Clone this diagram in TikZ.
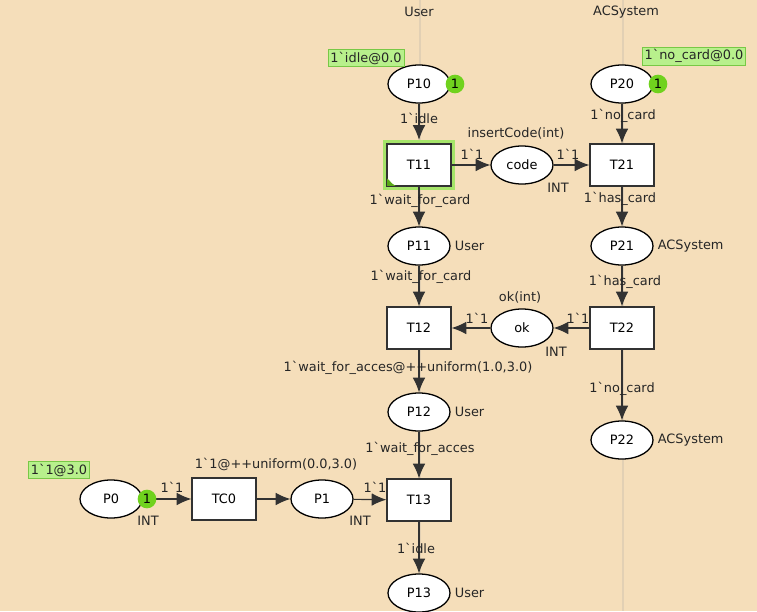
\documentclass[tikz,border=0pt]{standalone}
\usepackage{fontspec}
\newfontfamily\cpnfont{DejaVu Sans}
\usetikzlibrary{arrows.meta,shapes.geometric,positioning}
\definecolor{cpnbg}{RGB}{245,222,186}
\definecolor{laneline}{RGB}{226,208,180}
\definecolor{tokengreen}{RGB}{112,210,30}
\definecolor{markfill}{RGB}{184,240,140}
\definecolor{markdraw}{RGB}{120,200,70}
\definecolor{glowgreen}{RGB}{165,228,105}
\definecolor{arcgray}{RGB}{50,50,50}
\tikzset{
  place/.style={ellipse, draw=black, line width=1.1pt, fill=white, minimum width=1.86cm, minimum height=1.14cm, inner sep=0pt},
  trans/.style={rectangle, draw=arcgray, line width=1.1pt, fill=white, minimum width=1.92cm, minimum height=1.26cm, inner sep=0pt},
  arc/.style={-{Latex[length=4.4mm,width=3.8mm]}, arcgray, line width=1pt},
  token/.style={circle, fill=tokengreen, inner sep=0pt, minimum size=0.56cm, font=\cpnfont\fontsize{11}{12}\selectfont},
  marking/.style={rectangle, fill=markfill, draw=markdraw, inner sep=2pt, minimum height=0.52cm},
  lbl/.style={font=\cpnfont\fontsize{11}{12}\selectfont, text=black!85, inner sep=0pt},
  cset/.style={lbl, anchor=west, xshift=0.12cm},
  lane/.style={laneline, line width=1.2pt}
}
\newcommand{\gr}{\symbol{96}}
\begin{document}
\begin{tikzpicture}[x=0.03cm,y=-0.03cm,font=\cpnfont\fontsize{11}{12}\selectfont]
  \fill[cpnbg] (0,0) rectangle (757,611);
  \useasboundingbox (0,0) rectangle (757,611);
  % lanes
  \draw[lane] (420,0) -- (420,611);
  \draw[lane] (623,0) -- (623,611);
  \node[lbl] (userlane) at (419,12) {User};
  \node[lbl] (aclane) at (626,12) {ACSystem};

  % places
  \node[place] (P10) at (419,84) {P10};
  \node[place] (P11) at (419,246) {P11};
  \node[place] (P12) at (419,412) {P12};
  \node[place] (P13) at (419,593) {P13};
  \node[place] (P20) at (622,84) {P20};
  \node[place] (P21) at (622,246) {P21};
  \node[place] (P22) at (622,440) {P22};
  \node[place] (code) at (522,165) {code};
  \node[place] (ok) at (522,328) {ok};
  \node[place] (P0) at (111,499) {P0};
  \node[place] (P1) at (322,499) {P1};

  % transitions
  \node[trans, draw=glowgreen, line width=7pt, fill=none] (T11glow) at (419,165) {};
  \node[trans] (T11) at (419,165) {T11};
  \fill[tokengreen!80!black] (T11.south west) -- ++(0,-9) to[out=-40,in=180] ++(13,9) -- cycle;
  \draw[arcgray, line width=1.1pt] (T11.south west) rectangle (T11.north east);
  \node[trans] (T21) at (622,165) {T21};
  \node[trans] (T12) at (419,328) {T12};
  \node[trans] (T22) at (622,328) {T22};
  \node[trans] (T13) at (419,500) {T13};
  \node[trans] (TC0) at (224,499) {TC0};

  % arcs
  \draw[arc] (P10) -- (T11glow);
  \draw[arc] (T11) -- (code);
  \draw[arc] (code) -- (T21);
  \draw[arc] (T11) -- (P11);
  \draw[arc] (P20) -- (T21);
  \draw[arc] (T21) -- (P21);
  \draw[arc] (P11) -- (T12);
  \draw[arc] (P21) -- (T22);
  \draw[arc] (T22) -- (ok);
  \draw[arc] (ok) -- (T12);
  \draw[arc] (T12) -- (P12);
  \draw[arc] (T22) -- (P22);
  \draw[arc] (P12) -- (T13);
  \draw[arc] (P0) -- (TC0);
  \draw[arc] (TC0) -- (P1);
  \draw[arc] (P1) -- (T13);
  \draw[arc] (T13) -- (P13);

  % arc inscriptions
  \node[lbl] (a1) at (419,118) {1\gr idle};
  \node[lbl] (a2) at (472,154) {1\gr 1};
  \node[lbl] (a3) at (568,154) {1\gr 1};
  \node[lbl] (a4) at (623,116) {1\gr no\_card};
  \node[lbl] (a5) at (420,201) {1\gr wait\_for\_card};
  \node[lbl] (a6) at (620,199) {1\gr has\_card};
  \node[lbl] (a7) at (421,277) {1\gr wait\_for\_card};
  \node[lbl] (a8) at (625,282) {1\gr has\_card};
  \node[lbl] (a9) at (578,318) {1\gr 1};
  \node[lbl] (a10) at (477,318) {1\gr 1};
  \node[lbl] (a11) at (408,368) {1\gr wait\_for\_acces@++uniform(1.0,3.0)};
  \node[lbl] (a12) at (622,389) {1\gr no\_card};
  \node[lbl] (a13) at (420,449) {1\gr wait\_for\_acces};
  \node[lbl] (a14) at (172,487) {1\gr 1};
  \node[lbl] (a15) at (375,487) {1\gr 1};
  \node[lbl] (a16) at (416,548) {1\gr idle};
  \node[lbl] (g0) at (276,464) {1\gr 1@++uniform(0.0,3.0)};
  \node[lbl] (g1) at (516,133) {insertCode(int)};
  \node[lbl] (g2) at (520,297) {ok(int)};

  % colour sets
  \node[cset] (c1) at (P11.east) {User};
  \node[cset] (c2) at (P12.east) {User};
  \node[cset] (c3) at (P13.east) {User};
  \node[cset] (c4) at (P21.east) {ACSystem};
  \node[cset] (c5) at (P22.east) {ACSystem};
  \node[lbl] (c6) at (558,188) {INT};
  \node[lbl] (c7) at (556,352) {INT};
  \node[lbl] (c8) at (148,521) {INT};
  \node[lbl] (c9) at (360,521) {INT};

  % tokens and markings
  \node[token] (k10) at (455,84) {1};
  \node[token] (k20) at (658,84) {1};
  \node[token] (k0) at (147,499) {1};
  \node[marking, lbl, inner sep=2pt] (m10) at (366,58) {1\gr idle@0.0};
  \node[marking, lbl, inner sep=2pt] (m20) at (694,56) {1\gr no\_card@0.0};
  \node[marking, lbl, inner sep=2pt] (m0) at (59,470) {1\gr 1@3.0};
\end{tikzpicture}
\end{document}
